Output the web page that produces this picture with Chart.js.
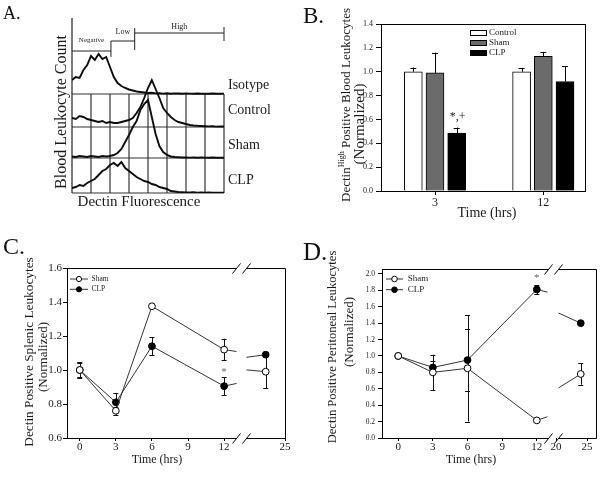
<!DOCTYPE html>
<html>
<head>
<meta charset="utf-8">
<title>Dectin-1 expression after CLP</title>
<script src="https://cdn.jsdelivr.net/npm/chart.js@4.4.1/dist/chart.umd.min.js"></script>
<style>
  html, body { margin: 0; padding: 0; background: #fff; }
  #fig { position: relative; width: 600px; height: 480px; overflow: hidden; background: #fff; }
  #fig canvas { position: absolute; left: 0; top: 0; }
  .tag { position: absolute; font-family: 'Liberation Serif', 'Times New Roman', serif; color: #111; line-height: 1; }
</style>
</head>
<body>
<div id="fig">
  <canvas id="panelA" width="600" height="480"></canvas>
  <canvas id="panelB" width="600" height="480"></canvas>
  <canvas id="panelC" width="600" height="480"></canvas>
  <canvas id="panelD" width="600" height="480"></canvas>
  <div class="tag" style="left:3px;top:4px;font-size:18px">A.</div>
  <div class="tag" style="left:303px;top:4px;font-size:23px">B.</div>
  <div class="tag" style="left:3px;top:234px;font-size:24px">C.</div>
  <div class="tag" style="left:303px;top:239px;font-size:25px">D.</div>
</div>
<script>
const SERIF = "'Liberation Serif', 'Times New Roman', serif";
Chart.defaults.font.family = SERIF;
Chart.defaults.color = '#1a1a1a';
Chart.defaults.animation = false;
Chart.defaults.events = [];
Chart.defaults.plugins.legend.display = false;
Chart.defaults.plugins.tooltip.enabled = false;

/* ---------- A: flow histograms (counts) ---------- */
const fluorBins = [0, 0.2, 0.4, 0.6, 0.8, 1, 1.2, 1.4, 1.6, 1.8, 2, 2.2, 2.4, 2.6, 2.8, 3, 3.2, 3.4, 3.6, 3.8,
                   4, 4.2, 4.4, 4.6, 4.8, 5, 5.2, 5.4, 5.6, 5.8, 6, 6.2, 6.4, 6.6, 6.8, 7, 7.2, 7.4, 7.6, 7.8, 8];
const laneLabels = ['Isotype', 'Control', 'Sham', 'CLP'];
const isotypeCounts = [14, 17, 16, 24, 29, 38, 34, 40, 35, 37, 27, 17, 11, 8, 6, 4.5, 3.5, 2.5, 2, 1.5,
                       1, 1.2, 0.6, 0.8, 0.4, 0.7, 0.3, 0.6, 0.5, 0.2, 0.6, 0.4, 0.3, 0.5, 0.2, 0.4, 0.3, 0.5, 0.2, 0.3, 0.4];
const controlCounts = [9, 8, 11, 10, 8, 7, 6, 5, 6, 4, 5, 4, 4, 5, 6, 7, 9, 14, 20, 29,
                       39, 47, 38, 29, 19, 14, 10, 7, 5, 4, 3, 2, 1.5, 1.2, 1, 0.8, 0.6, 0.8, 0.4, 0.6, 0.5];
const shamCounts = [1.5, 1, 2, 1.5, 1, 2, 1.5, 1, 2, 1.5, 2, 3, 5, 9, 16, 23, 31, 37, 48, 54,
                    58, 41, 24, 12, 6, 3, 1.5, 1, 0.8, 0.5, 0.6, 0.4, 0.5, 0.3, 0.5, 0.4, 0.3, 0.5, 0.3, 0.4, 0.3];
const clpCounts = [5, 6, 8, 7, 10, 12, 14, 18, 22, 24, 28, 30, 27, 31, 25, 22, 19, 16, 14, 12,
                   11, 9, 8, 6, 5, 4, 2, 1.5, 1, 0.8, 0.6, 0.5, 0.7, 0.4, 0.5, 0.3, 0.5, 0.4, 0.3, 0.4, 0.3];
const gateLabels = ['Negative', 'Low', 'High'];
const gateEdges = [0, 2.05, 3.3, 8];

/* ---------- B: Dectin-high blood leukocytes ---------- */
const timepointsB = ['3', '12'];
const controlB = [1.0, 1.0];
const controlErrB = [0.035, 0.03];
const shamB = [0.99, 1.13];
const shamErrB = [0.17, 0.034];
const clpB = [0.485, 0.918];
const clpErrB = [0.047, 0.127];

/* ---------- C: splenic leukocytes ---------- */
const hoursC = [0, 3, 6, 12, 24];
const shamC = [1.0, 0.76, 1.375, 1.12, 0.99];
const shamErrC = [0.04, 0.025, 0, 0.064, 0.096];
const clpC = [1.0, 0.81, 1.14, 0.905, 1.09];
const clpErrC = [0.046, 0.055, 0.054, 0.054, 0];

/* ---------- D: peritoneal leukocytes ---------- */
const hoursD = [0, 3, 6, 12, 24];
const shamD = [1.0, 0.80, 0.85, 0.215, 0.78];
const shamErrD = [0, 0.215, 0.65, 0.01, 0.13];
const clpD = [1.0, 0.86, 0.95, 1.81, 1.40];
const clpErrD = [0, 0.08, 0.38, 0.055, 0];

const preBreakTicks = [0, 3, 6, 9, 12];
const postBreakTicksC = [25];
const postBreakTicksD = [20, 25];

/* ---------- helpers ---------- */
const fixW = w => s => { s.width = w; };
const fixH = h => s => { s.height = h; };
const px = v => Math.round(v) + 0.5;

function seg(ctx, x0, y0, x1, y1) {
  ctx.beginPath(); ctx.moveTo(x0, y0); ctx.lineTo(x1, y1); ctx.stroke();
}
function text(ctx, str, x, y, size, align = 'center', base = 'middle') {
  ctx.font = `${size}px ${SERIF}`;
  ctx.textAlign = align; ctx.textBaseline = base;
  ctx.fillText(str, x, y);
}
// rotated (bottom-to-top) text made of runs, so a superscript can sit inside
function vText(ctx, runs, cx, cy) {
  ctx.save();
  ctx.translate(cx, cy); ctx.rotate(-Math.PI / 2);
  ctx.textAlign = 'left'; ctx.textBaseline = 'middle';
  let total = 0;
  runs.forEach(r => { ctx.font = `${r.size}px ${SERIF}`; r.w = ctx.measureText(r.text).width; total += r.w; });
  let x = -total / 2;
  runs.forEach(r => { ctx.font = `${r.size}px ${SERIF}`; ctx.fillText(r.text, x, -(r.rise || 0)); x += r.w; });
  ctx.restore();
}

/* ================= A ================= */
const laneOffsets = [99, 66, 35, 0];     // ridge layout, in y-scale units (1 unit = 1 px)
const laneLabelLift = [9, 17, 13, 13];
const laneCounts = [isotypeCounts, controlCounts, shamCounts, clpCounts];

const histDecor = {
  id: 'histDecor',
  beforeDatasetsDraw(chart) {
    const { ctx, chartArea: a, scales: { x, y } } = chart;
    ctx.save();
    ctx.strokeStyle = '#333'; ctx.lineWidth = 1.2;
    laneOffsets.forEach(o => seg(ctx, x.getPixelForValue(0), y.getPixelForValue(o), x.getPixelForValue(8), y.getPixelForValue(o)));
    for (let b = 1; b <= 8; b++) {
      seg(ctx, x.getPixelForValue(b), y.getPixelForValue(laneOffsets[0]), x.getPixelForValue(b), y.getPixelForValue(0));
    }
    ctx.strokeStyle = '#222';
    seg(ctx, x.getPixelForValue(0), a.top, x.getPixelForValue(0), y.getPixelForValue(0));

    // gate brackets
    const level = [142, 152, 160], tick = [[136, 152], [143, 165], [152, 166]];
    const lblAt = [153, 161, 166], lblSize = [7, 8, 8];
    ctx.lineWidth = 1;
    ctx.fillStyle = '#1a1a1a';
    gateLabels.forEach((g, i) => {
      const x0 = x.getPixelForValue(gateEdges[i]), x1 = x.getPixelForValue(gateEdges[i + 1]);
      seg(ctx, x0, y.getPixelForValue(level[i]), x1, y.getPixelForValue(level[i]));
      seg(ctx, x1, y.getPixelForValue(tick[i][0]), x1, y.getPixelForValue(tick[i][1]));
      text(ctx, g, (x0 + x1) / 2, y.getPixelForValue(lblAt[i]), lblSize[i]);
    });

    laneLabels.forEach((l, i) => text(ctx, l, a.right + 4, y.getPixelForValue(laneOffsets[i]) - laneLabelLift[i], 14, 'left'));
    text(ctx, 'Dectin Fluorescence', 139, 202, 15);
    vText(ctx, [{ text: 'Blood Leukocyte Count', size: 16 }], 62, 112);
    ctx.restore();
  }
};

new Chart(document.getElementById('panelA'), {
  type: 'line',
  data: {
    datasets: laneCounts.map((counts, k) => ({
      label: laneLabels[k],
      data: fluorBins.map((b, i) => ({ x: b, y: counts[i] + laneOffsets[k] })),
      borderColor: '#0d0d0d', borderWidth: 1.9, pointRadius: 0, tension: 0, borderJoinStyle: 'miter'
    }))
  },
  options: {
    responsive: false,
    layout: { padding: { left: 72, top: 18, right: 600 - 224, bottom: 480 - 193 } },
    scales: {
      x: { type: 'linear', min: 0, max: 8, display: false },
      y: { min: 0, max: 175, display: false }
    }
  },
  plugins: [histDecor]
});

/* ================= B ================= */
const barDecor = {
  id: 'barDecor',
  afterDatasetsDraw(chart) {
    const { ctx, chartArea: a, scales: { y } } = chart;
    ctx.save();
    ctx.strokeStyle = '#000'; ctx.lineWidth = 1; ctx.fillStyle = '#1a1a1a';
    ctx.strokeRect(px(a.left), px(a.top), Math.round(a.right - a.left), Math.round(a.bottom - a.top));

    chart.data.datasets.forEach((ds, di) => {
      chart.getDatasetMeta(di).data.forEach((el, i) => {
        const top = y.getPixelForValue(ds.data[i].y + ds.err[i]);
        seg(ctx, px(el.x), el.y, px(el.x), top);
        seg(ctx, el.x - 3, px(top), el.x + 3, px(top));
      });
    });

    // significance marks
    const clpBar = chart.getDatasetMeta(2).data[0];
    text(ctx, '*,+', clpBar.x + 1, y.getPixelForValue(0.592), 12, 'center', 'alphabetic');

    // legend inside the frame
    chart.data.datasets.forEach((ds, di) => {
      const ly = a.top + 9 + di * 10;
      ctx.fillStyle = ds.backgroundColor;
      ctx.fillRect(a.left + 89, ly - 3, 17, 6);
      ctx.strokeRect(a.left + 89.5, ly - 2.5, 16, 5);
      ctx.fillStyle = '#1a1a1a';
      text(ctx, ds.label, a.left + 108, ly, 9, 'left');
    });

    text(ctx, 'Time (hrs)', 487, 213, 14);
    vText(ctx, [{ text: 'Dectin', size: 13 }, { text: 'High', size: 8, rise: 5 },
                { text: ' Positive Blood Leukocytes', size: 13 }], 347, 105);
    vText(ctx, [{ text: '(Normalized)', size: 15 }], 360, 124);
    ctx.restore();
  }
};

const barGroups = [
  { label: 'Control', values: controlB, errs: controlErrB, fill: '#ffffff' },
  { label: 'Sham', values: shamB, errs: shamErrB, fill: '#6b6b6b' },
  { label: 'CLP', values: clpB, errs: clpErrB, fill: '#000000' }
];

new Chart(document.getElementById('panelB'), {
  type: 'bar',
  data: {
    datasets: barGroups.map(g => ({
      label: g.label,
      data: g.values.map((v, i) => ({ x: i, y: v })),
      err: g.errs,
      backgroundColor: g.fill, borderColor: '#000', borderWidth: 1,
      barThickness: 21.7, maxBarThickness: 18
    }))
  },
  options: {
    responsive: false,
    layout: { padding: { left: 381 - 30, top: 24, right: 600 - 585, bottom: 480 - 191 - 28 } },
    scales: {
      x: {
        type: 'linear', offset: false, min: -0.4986, max: 1.385,
        afterBuildTicks: s => { s.ticks = timepointsB.map((_, i) => ({ value: i })); },
        ticks: { callback: v => timepointsB[v], font: { size: 12, lineHeight: 1 }, padding: 2, maxRotation: 0 },
        grid: { drawOnChartArea: false, tickLength: 4, color: '#000', offset: false },
        border: { color: '#000' },
        afterFit: fixH(28)
      },
      y: {
        min: 0, max: 1.4,
        ticks: { stepSize: 0.2, callback: v => v.toFixed(1), font: { size: 8 }, padding: 3 },
        grid: { drawOnChartArea: false, tickLength: 5, color: '#000' },
        border: { color: '#000' },
        afterFit: fixW(30)
      }
    }
  },
  plugins: [barDecor]
});

/* ================= C & D: broken time axis ================= */
function timecourse(id, o) {
  const a = o.area;
  const datasets = [];
  o.series.forEach(s => {
    const base = {
      label: s.label, err: s.errs,
      borderColor: '#333', borderWidth: 1, tension: 0,
      pointRadius: 3.4, pointBackgroundColor: s.fill, pointBorderColor: '#000', pointBorderWidth: 1
    };
    datasets.push({ ...base, part: 'pre', xAxisID: 'x', data: o.hours.map((t, i) => ({ x: t, y: s.values[i] })),
      clip: { left: 8, top: 8, bottom: 8, right: -(a.r - o.gap[0]) } });
    datasets.push({ ...base, part: 'post', xAxisID: 'x2', data: o.hours.map((t, i) => ({ x: t, y: s.values[i] })),
      clip: { left: -(o.gap[1] - a.l), top: 8, bottom: 8, right: 8 } });
  });

  const decor = {
    id: 'decor' + id,
    beforeDatasetsDraw(chart) {
      const { ctx, scales: { y } } = chart;
      ctx.save();
      ctx.strokeStyle = '#111'; ctx.lineWidth = 1;
      chart.data.datasets.forEach((ds, di) => {
        const lo = ds.part === 'pre' ? a.l - 5 : o.gap[1];
        const hi = ds.part === 'pre' ? o.gap[0] : a.r + 5;
        chart.getDatasetMeta(di).data.forEach((el, i) => {
          const e = ds.err[i];
          if (!e || !(el.x >= lo && el.x <= hi)) return;
          const v = ds.data[i].y;
          const y0 = y.getPixelForValue(v - e), y1 = y.getPixelForValue(v + e);
          seg(ctx, px(el.x), y0, px(el.x), y1);
          seg(ctx, el.x - 2.5, px(y0), el.x + 2.5, px(y0));
          seg(ctx, el.x - 2.5, px(y1), el.x + 2.5, px(y1));
        });
      });
      ctx.restore();
    },
    afterDraw(chart) {
      const { ctx, scales: { x, x2, y } } = chart;
      const L = px(a.l), R = px(a.r), T = px(a.t), B = px(a.b);
      ctx.save();
      ctx.strokeStyle = '#000'; ctx.lineWidth = 1; ctx.fillStyle = '#1a1a1a';
      // frame with the axis break
      [T, B].forEach(yy => {
        seg(ctx, L, yy, o.gap[0], yy);
        seg(ctx, o.gap[1], yy, R, yy);
        o.gap.forEach(g => seg(ctx, g - 4, yy + 5, g + 4, yy - 5));
      });
      seg(ctx, R, T, R, B);

      // ticks after the break
      const labelY = a.b + 3 + 1 + o.xFont / 2;
      o.postTicks.forEach(v => {
        const tx = x2.getPixelForValue(v);
        seg(ctx, px(tx), a.b, px(tx), a.b + 3);
        text(ctx, String(v), tx, labelY, o.xFont);
      });

      // legend
      o.series.forEach((s, k) => {
        const ly = a.t + o.legend.rows[k];
        ctx.strokeStyle = '#333';
        seg(ctx, a.l + o.legend.x0, ly, a.l + o.legend.x1, ly);
        ctx.beginPath();
        ctx.arc(a.l + (o.legend.x0 + o.legend.x1) / 2, ly, o.legend.r, 0, Math.PI * 2);
        ctx.fillStyle = s.fill; ctx.fill();
        ctx.strokeStyle = '#000'; ctx.stroke();
        ctx.fillStyle = '#1a1a1a';
        text(ctx, s.label, a.l + o.legend.tx, ly, o.legend.size, 'left');
      });

      // significance mark
      ctx.fillStyle = '#666';
      text(ctx, '*', x.getPixelForValue(o.star.t), y.getPixelForValue(o.star.v) + 0.53 * 11, 11, 'center', 'alphabetic');

      ctx.fillStyle = '#1a1a1a';
      text(ctx, 'Time (hrs)', o.xTitle[0], o.xTitle[1], 12);
      vText(ctx, [{ text: o.yTitle, size: o.yTitleSize }], o.yTitlePos[0], o.yTitlePos[1]);
      vText(ctx, [{ text: '(Normalized)', size: 13 }], o.normPos[0], o.normPos[1]);
      ctx.restore();
    }
  };

  return new Chart(document.getElementById(id), {
    type: 'line',
    data: { datasets },
    options: {
      responsive: false,
      layout: { padding: { left: a.l - 30, top: a.t, right: 600 - a.r, bottom: 480 - a.b - 22 } },
      scales: {
        x: {
          type: 'linear', position: 'bottom', min: o.pre[0], max: o.pre[1],
          afterBuildTicks: s => { s.ticks = preBreakTicks.map(v => ({ value: v })); },
          ticks: { font: { size: o.xFont, lineHeight: 1 }, padding: 1, maxRotation: 0, autoSkip: false, callback: v => String(v) },
          grid: { drawOnChartArea: false, tickLength: 3, color: '#000' },
          border: { display: false },
          afterFit: fixH(22)
        },
        x2: { type: 'linear', position: 'bottom', display: false, min: o.post[0], max: o.post[1] },
        y: {
          min: o.yRange[0], max: o.yRange[1],
          ticks: { stepSize: 0.2, includeBounds: false, font: { size: o.yFont }, padding: o.yPad, callback: v => v.toFixed(1) },
          grid: { drawOnChartArea: false, tickLength: 4, color: '#000' },
          border: { color: '#000' },
          afterFit: fixW(30)
        }
      }
    },
    plugins: [decor]
  });
}

timecourse('panelC', {
  area: { l: 67, t: 268, r: 285, b: 438 },
  hours: hoursC,
  series: [
    { label: 'Sham', values: shamC, errs: shamErrC, fill: '#ffffff' },
    { label: 'CLP', values: clpC, errs: clpErrC, fill: '#000000' }
  ],
  yRange: [0.6, 1.6], yFont: 11, yPad: 1,
  pre: [-1.06, 17.06], post: [13.705, 25.0], gap: [236.5, 246.5],
  postTicks: postBreakTicksC, xFont: 11,
  legend: { x0: 3, x1: 21, rows: [11, 21.3], r: 2.6, tx: 24.5, size: 7.5 },
  star: { t: 12, v: 1.006 },
  xTitle: [157, 460],
  yTitle: 'Dectin Positive Splenic Leukocytes', yTitleSize: 13.3, yTitlePos: [30, 352], normPos: [44, 357]
});

timecourse('panelD', {
  area: { l: 382, t: 269, r: 596, b: 438 },
  hours: hoursD,
  series: [
    { label: 'Sham', values: shamD, errs: shamErrD, fill: '#ffffff' },
    { label: 'CLP', values: clpD, errs: clpErrD, fill: '#000000' }
  ],
  yRange: [0, 2.06], yFont: 7.5, yPad: 3,
  pre: [-1.405, 17.04], post: [-8.21, 26.31], gap: [548.5, 558.5],
  postTicks: postBreakTicksD, xFont: 11,
  legend: { x0: 4, x1: 21, rows: [10, 20.7], r: 2.8, tx: 25.7, size: 9 },
  star: { t: 12, v: 1.987 },
  xTitle: [471, 460],
  yTitle: 'Dectin Positive Peritoneal Leukocytes', yTitleSize: 12.6, yTitlePos: [333, 347], normPos: [350, 332]
});
</script>
</body>
</html>
